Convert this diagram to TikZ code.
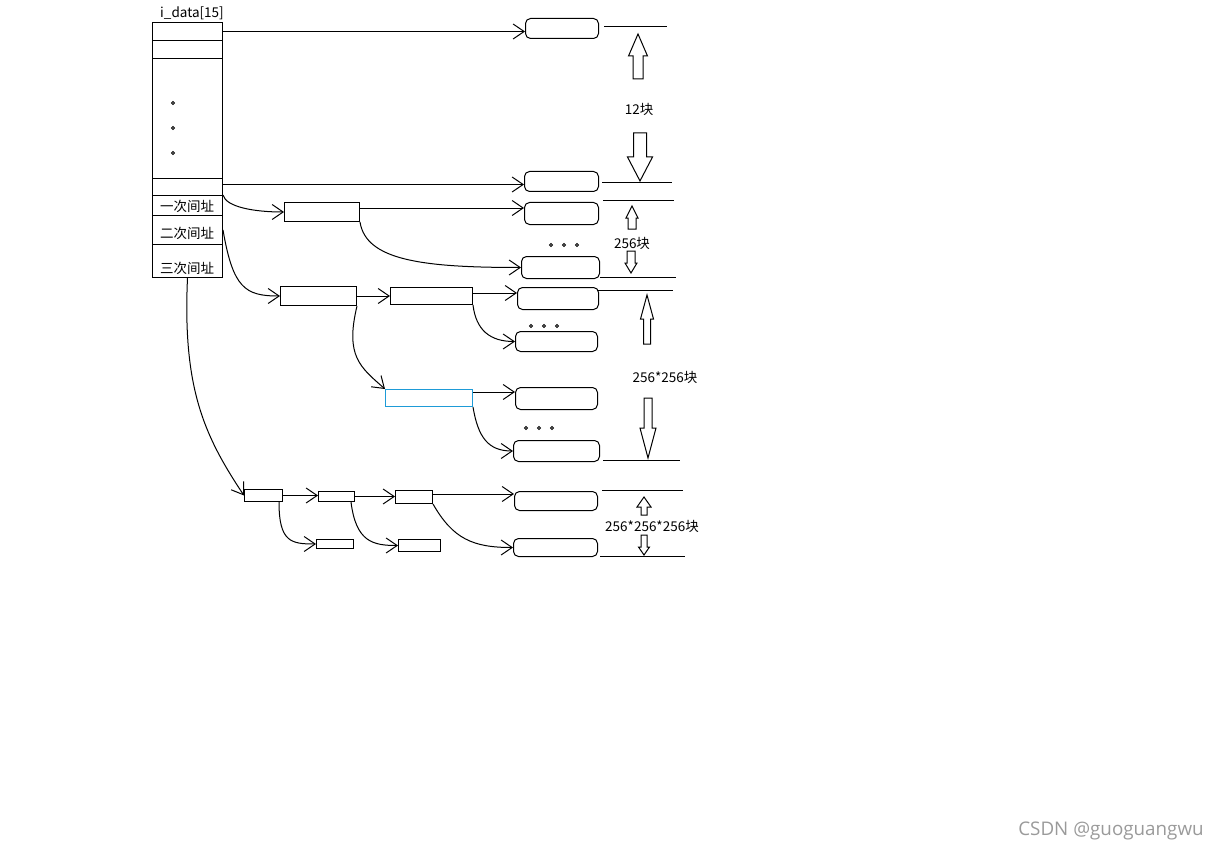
\documentclass[tikz,border=0pt]{standalone}
\usepackage{fontspec}
\setmainfont{Noto Sans CJK SC}
\newfontfamily\wmfont{Open Sans}
\usepackage{tikz}
\usetikzlibrary{arrows.meta,calc}
\definecolor{selBlue}{HTML}{1E9BD7}
\definecolor{wmGray}{HTML}{9A9A9A}
\tikzset{
  cell/.style={draw, line width=1pt, anchor=north west, inner sep=0pt,
        minimum width=70},
  blk/.style={draw, line width=1pt, rounded corners=5pt, anchor=north west,
        inner sep=0pt},
  ptr/.style={draw, line width=1pt, anchor=north west, inner sep=0pt},
  arr/.style={-{Straight Barb[length=11pt,width=15pt]}, line width=1pt},
  lab/.style={font=\fontsize{13.5}{15}\selectfont, inner sep=0pt},
  rule/.style={line width=1pt}
}
\newcommand{\hollowarrow}[6]{% x, tip y, base y, tail y, head half, shaft half
  \draw[line width=1pt, line join=miter] (#1,#2) -- ({#1+#5},#3) -- ({#1+#6},#3)
    -- ({#1+#6},#4) -- ({#1-#6},#4) -- ({#1-#6},#3) -- ({#1-#5},#3) -- cycle;}

\begin{document}
\begin{tikzpicture}[x=1pt, y=-1pt,
  dot/.style={line width=0.8pt}
]
\useasboundingbox (0,0) rectangle (1220,853);

% i_data array
\node[lab] (title) at (192,13) {i\_data[15]};
\node[cell, minimum height=18]  (a1)  at (152,22)  {};
\node[cell, minimum height=18]  (a2)  at (152,40)  {};
\node[cell, minimum height=120] (a3)  at (152,58)  {};
\node[cell, minimum height=17]  (a12) at (152,178) {};
\node[cell, minimum height=20]  (a13) at (152,195) {};
\node[cell, minimum height=29]  (a14) at (152,215) {};
\node[cell, minimum height=33]  (a15) at (152,244) {};
\node[lab] (t13) at (187,206) {一次间址};
\node[lab] (t14) at (187,233) {二次间址};
\node[lab] (t15) at (187,268) {三次间址};
\draw[dot] (173,103) circle (1.5) (173,128) circle (1.5) (173,153) circle (1.5);

% data blocks
\node[blk, minimum width=73, minimum height=20] (b1)  at (525,18)  {};
\node[blk, minimum width=74, minimum height=20] (b2)  at (524,171) {};
\node[blk, minimum width=74, minimum height=22] (b3)  at (524,202) {};
\node[blk, minimum width=78, minimum height=22] (b4)  at (521,256) {};
\node[blk, minimum width=81, minimum height=22] (b5)  at (517,287) {};
\node[blk, minimum width=82, minimum height=20] (b6)  at (515,331) {};
\node[blk, minimum width=82, minimum height=22] (b7)  at (515,387) {};
\node[blk, minimum width=86, minimum height=21] (b8)  at (513,440) {};
\node[blk, minimum width=83, minimum height=19] (b9)  at (514,491) {};
\node[blk, minimum width=84, minimum height=18] (b10) at (513,538) {};
\draw[dot] (551,245) circle (1.5) (564,245) circle (1.5) (577,245) circle (1.5);
\draw[dot] (531,326) circle (1.5) (544,326) circle (1.5) (557,326) circle (1.5);
\draw[dot] (526,428) circle (1.5) (539,428) circle (1.5) (552,428) circle (1.5);

% index blocks
\node[ptr, minimum width=75, minimum height=19] (s1) at (284,202) {};
\node[ptr, minimum width=76, minimum height=19] (d1) at (280,286) {};
\node[ptr, minimum width=82, minimum height=17] (d2) at (390,287) {};
\node[ptr, draw=selBlue, minimum width=87, minimum height=17] (d3) at (385,389) {};
\node[ptr, minimum width=38, minimum height=12] (r1) at (244,489) {};
\node[ptr, minimum width=36, minimum height=10] (r2) at (318,491) {};
\node[ptr, minimum width=37, minimum height=13] (r3) at (395,490) {};
\node[ptr, minimum width=37, minimum height=9]  (r4) at (316,539) {};
\node[ptr, minimum width=42, minimum height=12] (r5) at (398,539) {};

% direct
\draw[arr] (a1.east) -- (a1.east -| b1.west);
\draw[arr] ([yshift=-3pt]b2.west -| a12.east) -- ([yshift=-3pt]b2.west);
% single indirect
\draw[arr] (a13.north east) .. controls +(3,12) and +(-30,0) .. (s1.west);
\draw[arr] ([yshift=4pt]s1.east) -- ([yshift=4pt]s1.east -| b3.west);
\draw[arr] (s1.south east) .. controls +(6,38) and +(-100,0) .. (b4.west);
% double indirect
\draw[arr] (a14.east) .. controls +(10,58) and +(-35,0) .. (d1.west);
\draw[arr] (d1.east) -- (d2.east -| d2.west);
\draw[arr] ([yshift=3pt]d2.east) -- ([yshift=3pt]d2.east -| b5.west);
\draw[arr] (d2.south east) .. controls +(3,25) and +(-25,0) .. (b6.west);
\draw[arr] (d1.south east) .. controls +(-12,50) and +(-25,-22) .. (d3.north west);
\draw[arr] ([yshift=6pt]d3.east) -- ([yshift=6pt]d3.east -| b7.west);
\draw[arr] (d3.south east) .. controls +(5,30) and +(-25,0) .. (b8.west);
% triple indirect
\draw[arr] (a15.south) .. controls +(-5,110) and +(-40,-60) .. (r1.west);
\draw[arr] (r1.east) -- (r1.east -| r2.west);
\draw[arr] (r2.east) -- (r2.east -| r3.west);
\draw[arr] ([yshift=3pt]r3.east) -- ([yshift=3pt]r3.east -| b9.west);
\draw[arr] ([xshift=-4pt]r1.south east) .. controls +(0,40) and +(-25,0) .. (r4.west);
\draw[arr] ([xshift=-4pt]r2.south east) .. controls +(5,40) and +(-25,0) .. (r5.west);
\draw[arr] (r3.south east) .. controls +(20,35) and +(-40,0) .. (b10.west);

% block counts
\draw[rule] (604,27) -- (667,27);
\draw[rule] (602,183) -- (672,183);
\draw[rule] (603,201) -- (674,201);
\draw[rule] (600,277) -- (676,277);
\draw[rule] (598,290) -- (673,290);
\draw[rule] (603,460) -- (680,460);
\draw[rule] (602,490) -- (683,490);
\draw[rule] (600,556) -- (685,556);
\hollowarrow{638}{34}{56}{79}{9.5}{5}
\hollowarrow{640}{181}{157}{133}{12.5}{6.5}
\hollowarrow{632}{206}{218}{229}{6}{4}
\hollowarrow{631}{273}{263}{251}{6}{4}
\hollowarrow{647}{295}{319}{344}{6.5}{3.5}
\hollowarrow{648}{458}{428}{398}{8}{4}
\hollowarrow{644}{497}{507}{515}{7}{3}
\hollowarrow{644}{555}{547}{535}{5.5}{3}
\node[lab] (n12)  at (639,109) {12块};
\node[lab] (n256) at (632,243) {256块};
\node[lab] (n2x)  at (665,377) {256*256块};
\node[lab] (n3x)  at (652,526) {256*256*256块};

\node[font=\wmfont\fontsize{18.8}{21}\selectfont, text=wmGray, inner sep=0pt]
  (wm) at (1111,831) {CSDN @guoguangwu};
\end{tikzpicture}
\end{document}
